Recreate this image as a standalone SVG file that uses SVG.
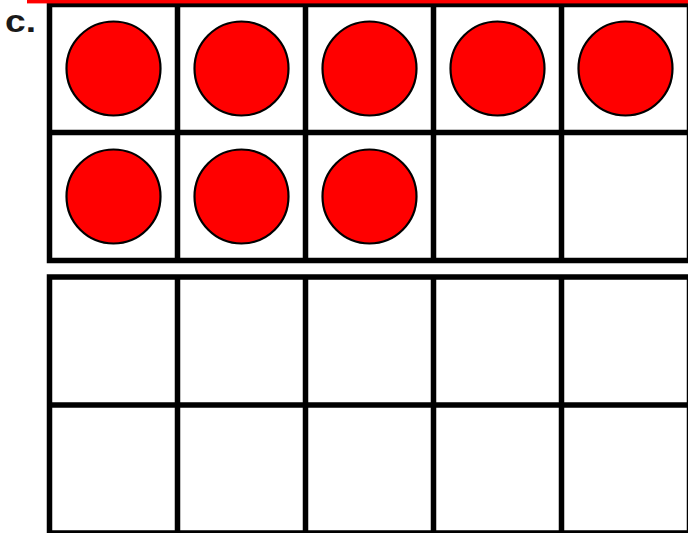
<svg xmlns="http://www.w3.org/2000/svg" width="688" height="533" viewBox="0 0 688 533">
<style>
.grid{fill:none;stroke:#000;stroke-width:5.5}
.cnt{fill:#ff0000;stroke:#000;stroke-width:2.2}
.lbl{font-family:"Liberation Sans",Arial,sans-serif;font-weight:bold;font-size:32px;fill:#1a1a1a}
</style>
<rect x="0" y="0" width="688" height="533" fill="#fff"/>
<g id="frame-top" class="grid">
<rect x="49.5" y="4.5" width="640" height="256"/>
<line x1="49.5" y1="132.5" x2="689.5" y2="132.5"/>
<line x1="177.5" y1="4.5" x2="177.5" y2="260.5"/>
<line x1="305.5" y1="4.5" x2="305.5" y2="260.5"/>
<line x1="433.5" y1="4.5" x2="433.5" y2="260.5"/>
<line x1="561.5" y1="4.5" x2="561.5" y2="260.5"/>
</g>
<g id="frame-bottom" class="grid">
<rect x="49.5" y="277" width="640" height="256"/>
<line x1="49.5" y1="405" x2="689.5" y2="405"/>
<line x1="177.5" y1="277" x2="177.5" y2="533"/>
<line x1="305.5" y1="277" x2="305.5" y2="533"/>
<line x1="433.5" y1="277" x2="433.5" y2="533"/>
<line x1="561.5" y1="277" x2="561.5" y2="533"/>
</g>
<g id="counters">
<circle class="cnt" cx="113.5" cy="68.5" r="47"/>
<circle class="cnt" cx="241.5" cy="68.5" r="47"/>
<circle class="cnt" cx="369.5" cy="68.5" r="47"/>
<circle class="cnt" cx="497.5" cy="68.5" r="47"/>
<circle class="cnt" cx="625.5" cy="68.5" r="47"/>
<circle class="cnt" cx="113.5" cy="196.5" r="47"/>
<circle class="cnt" cx="241.5" cy="196.5" r="47"/>
<circle class="cnt" cx="369.5" cy="196.5" r="47"/>
</g>
<rect id="top-rule" x="27" y="0" width="661" height="3.4" fill="#ff0000"/>
<text id="label" class="lbl" x="5" y="32" textLength="31" lengthAdjust="spacingAndGlyphs">c.</text>
</svg>
